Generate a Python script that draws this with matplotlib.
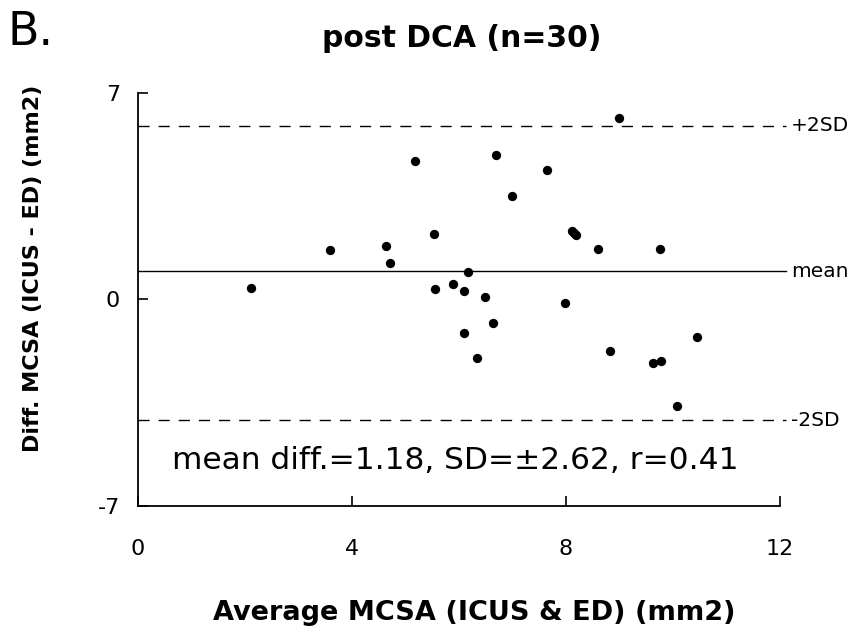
import matplotlib
matplotlib.use("Agg")
import matplotlib.pyplot as plt
import numpy as np

plt.rcParams['font.family'] = ['DejaVu Sans']

# average MCSA (x) and difference ICUS - ED (y)
avg_mcsa = [2.11, 3.58, 4.64, 4.71, 5.18, 5.54, 5.55, 5.88, 6.10, 6.17,
            6.49, 6.64, 6.69, 6.10, 6.33, 7.00, 7.65, 8.12, 8.19, 8.15,
            8.59, 9.76, 7.99, 9.00, 8.82, 9.63, 9.78, 10.45, 10.07]
diff_mcsa = [0.40, 1.68, 1.80, 1.24, 4.70, 2.22, 0.36, 0.53, 0.28, 0.93,
             0.09, -0.79, 4.91, -1.13, -2.00, 3.52, 4.39, 2.31, 2.18, 2.26,
             1.72, 1.72, -0.11, 6.14, -1.75, -2.17, -2.08, -1.26, -3.60]

# reference lines as drawn
line_vals = [5.88, 0.96, -4.09]
line_names = ["+2SD", "mean", "-2SD"]
line_styles = [(0, (8, 6.5)), "-", (0, (8, 6.5))]

xticks = [0, 4, 8, 12]
yticks = [-7, 0, 7]
ytick_labels = ["-7", "0", "7"]

fig = plt.figure(figsize=(8.56, 6.37), dpi=100)
ax = fig.add_axes([0.1612, 0.2057, 0.75, 0.6484])

ax.scatter(avg_mcsa, diff_mcsa, s=45, c='black', zorder=5, linewidths=0)

for v, name, ls in zip(line_vals, line_names, line_styles):
    ax.plot([0, 12.12], [v, v], color='black', lw=1.0, ls=ls, clip_on=False)
    ax.text(12.2, v, name, fontsize=14.5, va='center', ha='left', clip_on=False)

ax.text(0.63, -5.74, "mean diff.=1.18, SD=\u00b12.62, r=0.41", fontsize=22.5,
        va='baseline', ha='left')

ax.set_xlim(0, 12)
ax.set_ylim(-7, 7)
ax.set_xticks(xticks)
ax.set_yticks(yticks, ytick_labels)
ax.tick_params(direction='in', length=7, width=1.2, labelsize=16)
ax.tick_params(axis='x', pad=24)
ax.tick_params(axis='y', pad=13)
for s in ['top', 'right']:
    ax.spines[s].set_visible(False)
for s in ['left', 'bottom']:
    ax.spines[s].set_linewidth(1.3)

fig.text(0.009, 0.929, "B.", fontsize=33, va='baseline', ha='left')
fig.text(0.540, 0.940, "post DCA (n=30)", fontsize=21.5, fontweight='bold',
         va='center', ha='center')
fig.text(0.554, 0.038, "Average MCSA (ICUS & ED) (mm2)", fontsize=19.5,
         fontweight='bold', va='center', ha='center')
fig.text(0.039, 0.579, "Diff. MCSA (ICUS - ED) (mm2)", fontsize=16,
         fontweight='bold', va='center', ha='center', rotation=90)

fig.savefig('out.png', dpi=100)
